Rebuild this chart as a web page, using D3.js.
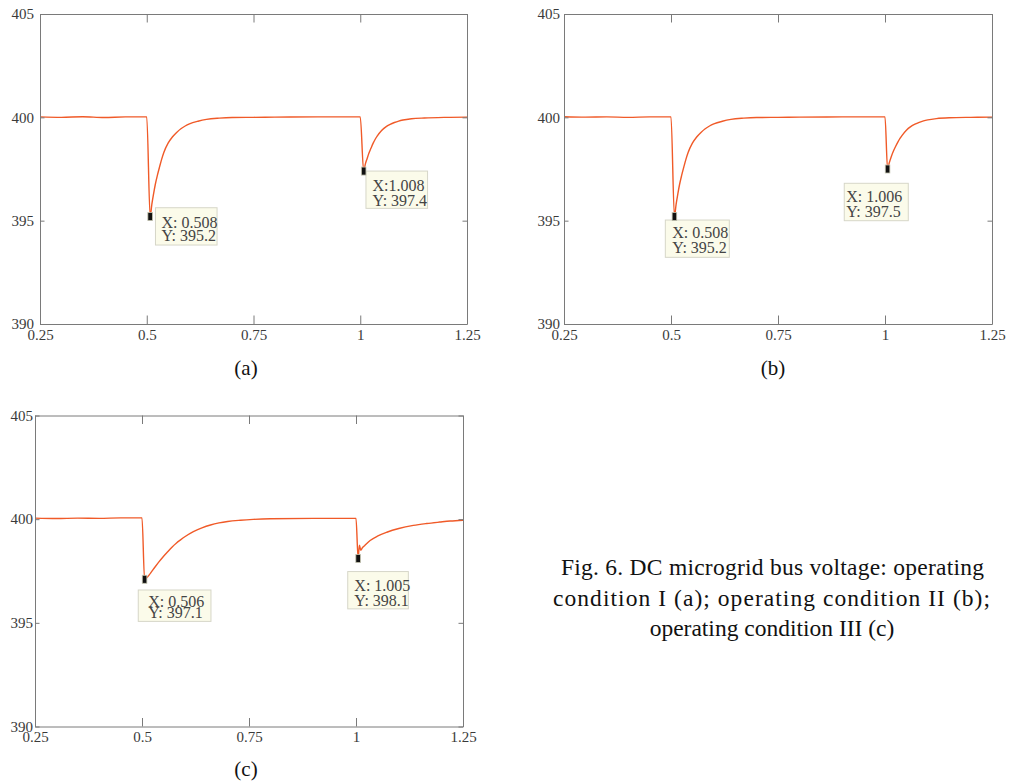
<!DOCTYPE html>
<html>
<head>
<meta charset="utf-8">
<script src="https://cdn.jsdelivr.net/npm/d3@7"></script>
<style>
  body { margin: 0; background: #fff; }
  svg { display: block; }
  text { font-family: "Liberation Serif", "DejaVu Serif", serif; }
</style>
</head>
<body>
<svg id="fig" width="1009" height="783"></svg>
<script>
// axis ticks
var xTicks = [0.25, 0.5, 0.75, 1, 1.25]
var xTickLabels = ["0.25", "0.5", "0.75", "1", "1.25"]
var yTicks = [390, 395, 400, 405]

// bus voltage, [time s, voltage V]
var curveA = [
    [0.25, 400.02], [0.30, 400.0], [0.35, 400.03], [0.40, 399.99], [0.45, 400.02], [0.5, 400.02],
    [0.508, 395.2], [0.512, 395.8], [0.516, 396.3], [0.52, 396.75], [0.525, 397.2], [0.53, 397.6],
    [0.535, 397.98], [0.54, 398.3], [0.55, 398.75], [0.56, 399.05], [0.57, 399.27], [0.58, 399.45],
    [0.59, 399.58], [0.6, 399.68], [0.62, 399.81], [0.64, 399.9], [0.67, 399.96], [0.7, 399.99],
    [0.75, 400.0], [0.8, 400.01], [0.9, 400.02], [1.0, 400.02],
    [1.008, 397.4], [1.012, 397.75], [1.016, 398.0], [1.02, 398.25], [1.025, 398.5], [1.03, 398.74],
    [1.035, 398.94], [1.04, 399.1], [1.05, 399.36], [1.06, 399.54], [1.07, 399.66], [1.08, 399.75],
    [1.09, 399.82], [1.1, 399.87], [1.12, 399.93], [1.15, 399.97], [1.2, 400.0], [1.25, 400.01]
]
var curveB = [
    [0.25, 400.03], [0.30, 400.01], [0.35, 400.02], [0.40, 400.0], [0.45, 400.02], [0.5, 400.02],
    [0.508, 395.2], [0.512, 395.8], [0.516, 396.3], [0.52, 396.75], [0.525, 397.2], [0.53, 397.6],
    [0.535, 397.98], [0.54, 398.3], [0.55, 398.75], [0.56, 399.05], [0.57, 399.27], [0.58, 399.45],
    [0.59, 399.58], [0.6, 399.68], [0.62, 399.81], [0.64, 399.9], [0.67, 399.96], [0.7, 399.99],
    [0.75, 400.0], [0.8, 400.01], [0.9, 400.02], [1.0, 400.02],
    [1.006, 397.5], [1.01, 397.8], [1.015, 398.12], [1.02, 398.38], [1.025, 398.6], [1.03, 398.8],
    [1.035, 398.98], [1.04, 399.13], [1.05, 399.38], [1.06, 399.55], [1.07, 399.67], [1.08, 399.76],
    [1.09, 399.83], [1.1, 399.88], [1.12, 399.94], [1.15, 399.98], [1.2, 400.0], [1.25, 400.01]
]
var curveC = [
    [0.25, 400.05], [0.30, 400.03], [0.35, 400.05], [0.40, 400.04], [0.45, 400.06], [0.5, 400.06],
    [0.506, 397.1], [0.51, 397.15], [0.52, 397.4], [0.53, 397.68], [0.54, 397.95], [0.55, 398.2],
    [0.56, 398.43], [0.57, 398.65], [0.58, 398.84], [0.59, 399.0], [0.6, 399.15], [0.62, 399.4],
    [0.64, 399.58], [0.66, 399.72], [0.68, 399.82], [0.7, 399.89], [0.73, 399.95], [0.76, 399.99],
    [0.8, 400.02], [0.9, 400.04], [1.0, 400.04],
    [1.005, 398.1], [1.008, 398.75], [1.011, 398.5], [1.015, 398.62], [1.02, 398.72], [1.033, 398.97],
    [1.05, 399.18], [1.072, 399.37], [1.1, 399.55], [1.134, 399.7], [1.165, 399.79], [1.196, 399.86],
    [1.22, 399.91], [1.25, 399.95]
]

// data tips: time, voltage, text
var tipsA = [[0.508, 395.2, "X: 0.508", "Y: 395.2"], [1.008, 397.4, "X:1.008", "Y: 397.4"]]
var tipsB = [[0.508, 395.2, "X: 0.508", "Y: 395.2"], [1.006, 397.5, "X: 1.006", "Y: 397.5"]]
var tipsC = [[0.506, 397.1, "X: 0.506", "Y: 397.1"], [1.005, 398.1, "X: 1.005", "Y: 398.1"]]

var subLabels = ["(a)", "(b)", "(c)"]
var captionLines = [
    "Fig. 6. DC microgrid bus voltage: operating",
    "condition I (a); operating condition II (b);",
    "operating condition III (c)"
]

// layout of each panel (pixels)
var panels = [
    {curve: curveA, tips: tipsA, left: 40, top: 14, width: 427, height: 310, ylabGap: 6,
     boxes: [{dx: 5.3, dy: -8.8, w: 61.6, h: 37.3, tx: 6, l1: 20, l2: 33},
             {dx: 2.3, dy: 0, w: 61.6, h: 37.3, tx: 6.6, l1: 19.7, l2: 35}],
     sub: {x: 246, y: 375}},
    {curve: curveB, tips: tipsB, left: 564, top: 14, width: 428, height: 310, ylabGap: 4,
     boxes: [{dx: -9.1, dy: 3.5, w: 64, h: 37.3, tx: 7, l1: 18.3, l2: 33.3},
             {dx: -43.3, dy: 14.3, w: 64, h: 37.4, tx: 2, l1: 19, l2: 34}],
     sub: {x: 773, y: 375}},
    {curve: curveC, tips: tipsC, left: 35, top: 415.5, width: 428, height: 311, ylabGap: 2,
     boxes: [{dx: -6.3, dy: 10.7, w: 72.7, h: 31.4, tx: 10, l1: 17.4, l2: 28},
             {dx: -10.4, dy: 13, w: 60.6, h: 37.3, tx: 6.6, l1: 19.7, l2: 34.7}],
     sub: {x: 246, y: 776}}
]

var svg = d3.select("#fig")
var lineColor = "#f05a28"
var axisColor = "#7a7a7a"

panels.forEach(function (p, pi)
{
    var g = svg.append("g").attr("transform", "translate(" + p.left + "," + p.top + ")")

    var x = d3.scaleLinear().domain([0.25, 1.25]).range([0, p.width])
    var y = d3.scaleLinear().domain([390, 405]).range([p.height, 0])

    // curve
    var line = d3.line()
        .x(function (d) { return x(d[0]) })
        .y(function (d) { return y(d[1]) })
        .curve(d3.curveMonotoneX)

    g.append("path")
        .datum(p.curve)
        .attr("fill", "none")
        .attr("stroke", lineColor)
        .attr("stroke-width", 1.4)
        .attr("d", line)

    // box axes, ticks pointing inward
    var bottom = g.append("g")
        .attr("transform", "translate(0," + p.height + ")")
        .call(d3.axisBottom(x).tickValues(xTicks).tickSizeInner(-8.5).tickSizeOuter(0)
            .tickPadding(5).tickFormat(function (d, i) { return xTickLabels[i] }))
    var top = g.append("g")
        .call(d3.axisTop(x).tickValues(xTicks).tickSizeInner(-8.5).tickSizeOuter(0).tickFormat(""))
    var left = g.append("g")
        .call(d3.axisLeft(y).tickValues(yTicks).tickSizeInner(-4.5).tickSizeOuter(0)
            .tickPadding(p.ylabGap))
    var right = g.append("g")
        .attr("transform", "translate(" + p.width + ",0)")
        .call(d3.axisRight(y).tickValues(yTicks).tickSizeInner(-4.5).tickSizeOuter(0).tickFormat(""))

    ;[bottom, top, left, right].forEach(function (a)
    {
        a.attr("font-family", null).attr("font-size", null)
        a.selectAll("path, line").attr("stroke", axisColor)
        a.selectAll("text")
            .attr("fill", "#3a3a3a")
            .style("font-size", "15px")
    })

    // data tips
    p.tips.forEach(function (t, ti)
    {
        var b = p.boxes[ti]
        var px = x(t[0]), py = y(t[1])
        var bx = px + b.dx, by = py + b.dy
        g.append("rect")
            .attr("x", bx).attr("y", by)
            .attr("width", b.w).attr("height", b.h)
            .attr("fill", "#fbfbea")
            .attr("stroke", "#d6d6c8")
            .attr("stroke-width", 1)
        g.append("text")
            .attr("x", bx + b.tx).attr("y", by + b.l1)
            .attr("fill", "#444")
            .style("font-size", "16px")
            .text(t[2])
        g.append("text")
            .attr("x", bx + b.tx).attr("y", by + b.l2)
            .attr("fill", "#444")
            .style("font-size", "16px")
            .text(t[3])
        g.append("rect")
            .attr("x", px - 2.3).attr("y", py - 4)
            .attr("width", 4.6).attr("height", 8)
            .attr("fill", "#111")
            .attr("stroke", "#c4c4b0")
            .attr("stroke-width", 0.8)
    })

    svg.append("text")
        .attr("x", p.sub.x).attr("y", p.sub.y)
        .attr("text-anchor", "middle")
        .style("font-size", "21px")
        .attr("fill", "#111")
        .text(subLabels[pi])
})

// figure caption
var capX = [561, 553, 772]
var capW = [423, 437, null]
var capY = [575, 605.5, 636]
captionLines.forEach(function (s, i)
{
    var t = svg.append("text")
        .attr("x", capX[i]).attr("y", capY[i])
        .style("font-size", "23.5px")
        .attr("fill", "#111")
        .text(s)
    if (capW[i])
        t.attr("textLength", capW[i]).attr("lengthAdjust", "spacing")
    else
        t.attr("text-anchor", "middle")
})
</script>
</body>
</html>
